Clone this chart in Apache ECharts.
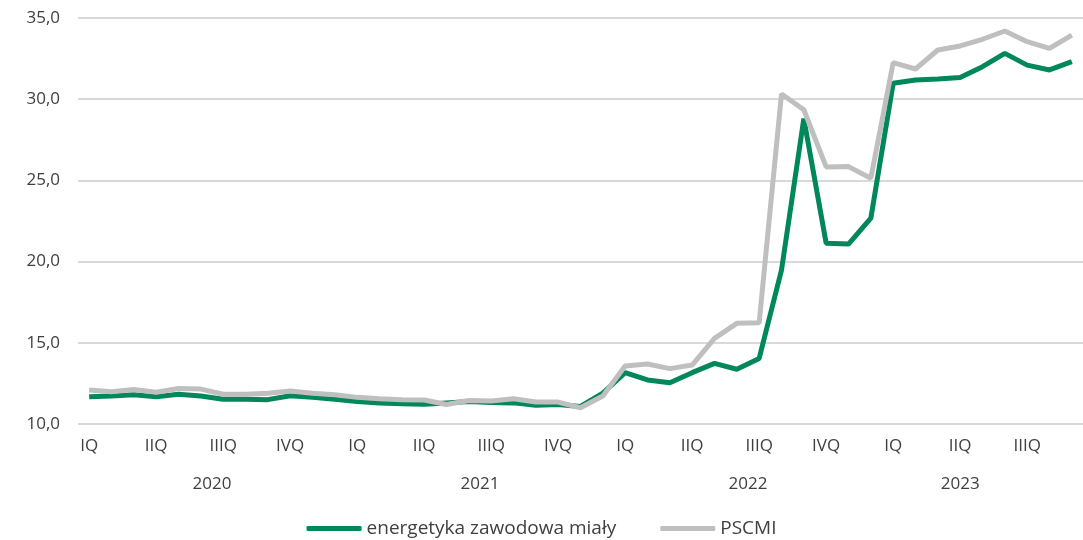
<!DOCTYPE html>
<html>
<head>
<meta charset="utf-8">
<script src="https://cdn.jsdelivr.net/npm/echarts@6/dist/echarts.min.js"></script>
<style>
  html, body { margin: 0; padding: 0; background: #fff; }
  #chart { width: 1083px; height: 540px; }
</style>
</head>
<body>
<div id="chart"></div>
<script>
// monthly points, Jan 2020 .. Sep 2023
const quarters = ['IQ', 'IIQ', 'IIIQ', 'IVQ']
const years = ['2020', '2021', '2022', '2023']
const yearLabelPos = [5.5, 17.5, 29.5, 39]

const energetyka = [
  11.68, 11.72, 11.80, 11.68, 11.83, 11.72, 11.52, 11.52, 11.50, 11.74, 11.64, 11.52,
  11.38, 11.30, 11.25, 11.22, 11.30, 11.38, 11.33, 11.30, 11.15, 11.20, 11.08, 11.90,
  13.16, 12.71, 12.54, 13.16, 13.73, 13.37, 14.04, 19.48, 28.80, 21.13, 21.08, 22.67,
  30.98, 31.18, 31.24, 31.33, 32.00, 32.82, 32.10, 31.80, 32.31
]
const pscmi = [
  12.09, 11.99, 12.13, 11.95, 12.19, 12.15, 11.83, 11.83, 11.89, 12.03, 11.89, 11.80,
  11.64, 11.55, 11.50, 11.48, 11.20, 11.45, 11.42, 11.55, 11.35, 11.35, 11.00, 11.72,
  13.57, 13.69, 13.41, 13.63, 15.27, 16.20, 16.24, 30.32, 29.35, 25.83, 25.85, 25.13,
  32.25, 31.86, 33.03, 33.28, 33.69, 34.20, 33.54, 33.13, 33.95
]

const months = energetyka.map((v, i) => i)
const font = '"Open Sans", sans-serif'
const textColor = '#404040'

const chart = echarts.init(document.getElementById('chart'))
chart.setOption({
  animation: false,
  textStyle: { fontFamily: font },
  grid: { left: 78, right: 0, top: 18, bottom: 116 },
  legend: {
    bottom: -3,
    left: 'center',
    icon: 'roundRect',
    itemWidth: 55,
    itemHeight: 5,
    itemGap: 44,
    textStyle: { fontSize: 19, color: textColor, fontFamily: font },
    data: ['energetyka zawodowa miały', 'PSCMI']
  },
  xAxis: [
    {
      type: 'category',
      data: months,
      boundaryGap: true,
      axisLine: { show: false },
      axisTick: { show: false },
      axisLabel: {
        interval: function (i) { return i % 3 === 0 },
        formatter: function (v, i) { return quarters[(i / 3) % 4] },
        color: textColor,
        fontSize: 17,
        margin: 14
      }
    },
    {
      type: 'value',
      min: -0.5,
      max: 44.5,
      position: 'bottom',
      offset: 38,
      axisLine: { show: false },
      axisTick: { show: false },
      splitLine: { show: false },
      axisLabel: {
        customValues: yearLabelPos,
        formatter: function (v) { return years[yearLabelPos.indexOf(v)] },
        color: textColor,
        fontSize: 17,
        margin: 14
      }
    }
  ],
  yAxis: {
    type: 'value',
    min: 10,
    max: 35,
    interval: 5,
    axisLine: { show: false },
    axisTick: { show: false },
    axisLabel: {
      formatter: function (v) { return v.toFixed(1).replace('.', ',') },
      color: textColor,
      fontSize: 17,
      margin: 18
    },
    splitLine: { lineStyle: { color: '#d9d9d9', width: 2 } }
  },
  series: [
    {
      name: 'energetyka zawodowa miały',
      type: 'line',
      data: energetyka,
      showSymbol: false,
      color: '#00875a',
      lineStyle: { width: 5, color: '#00875a' }
    },
    {
      name: 'PSCMI',
      type: 'line',
      data: pscmi,
      showSymbol: false,
      color: '#bfbfbf',
      lineStyle: { width: 5, color: '#bfbfbf' }
    }
  ]
})
</script>
</body>
</html>
